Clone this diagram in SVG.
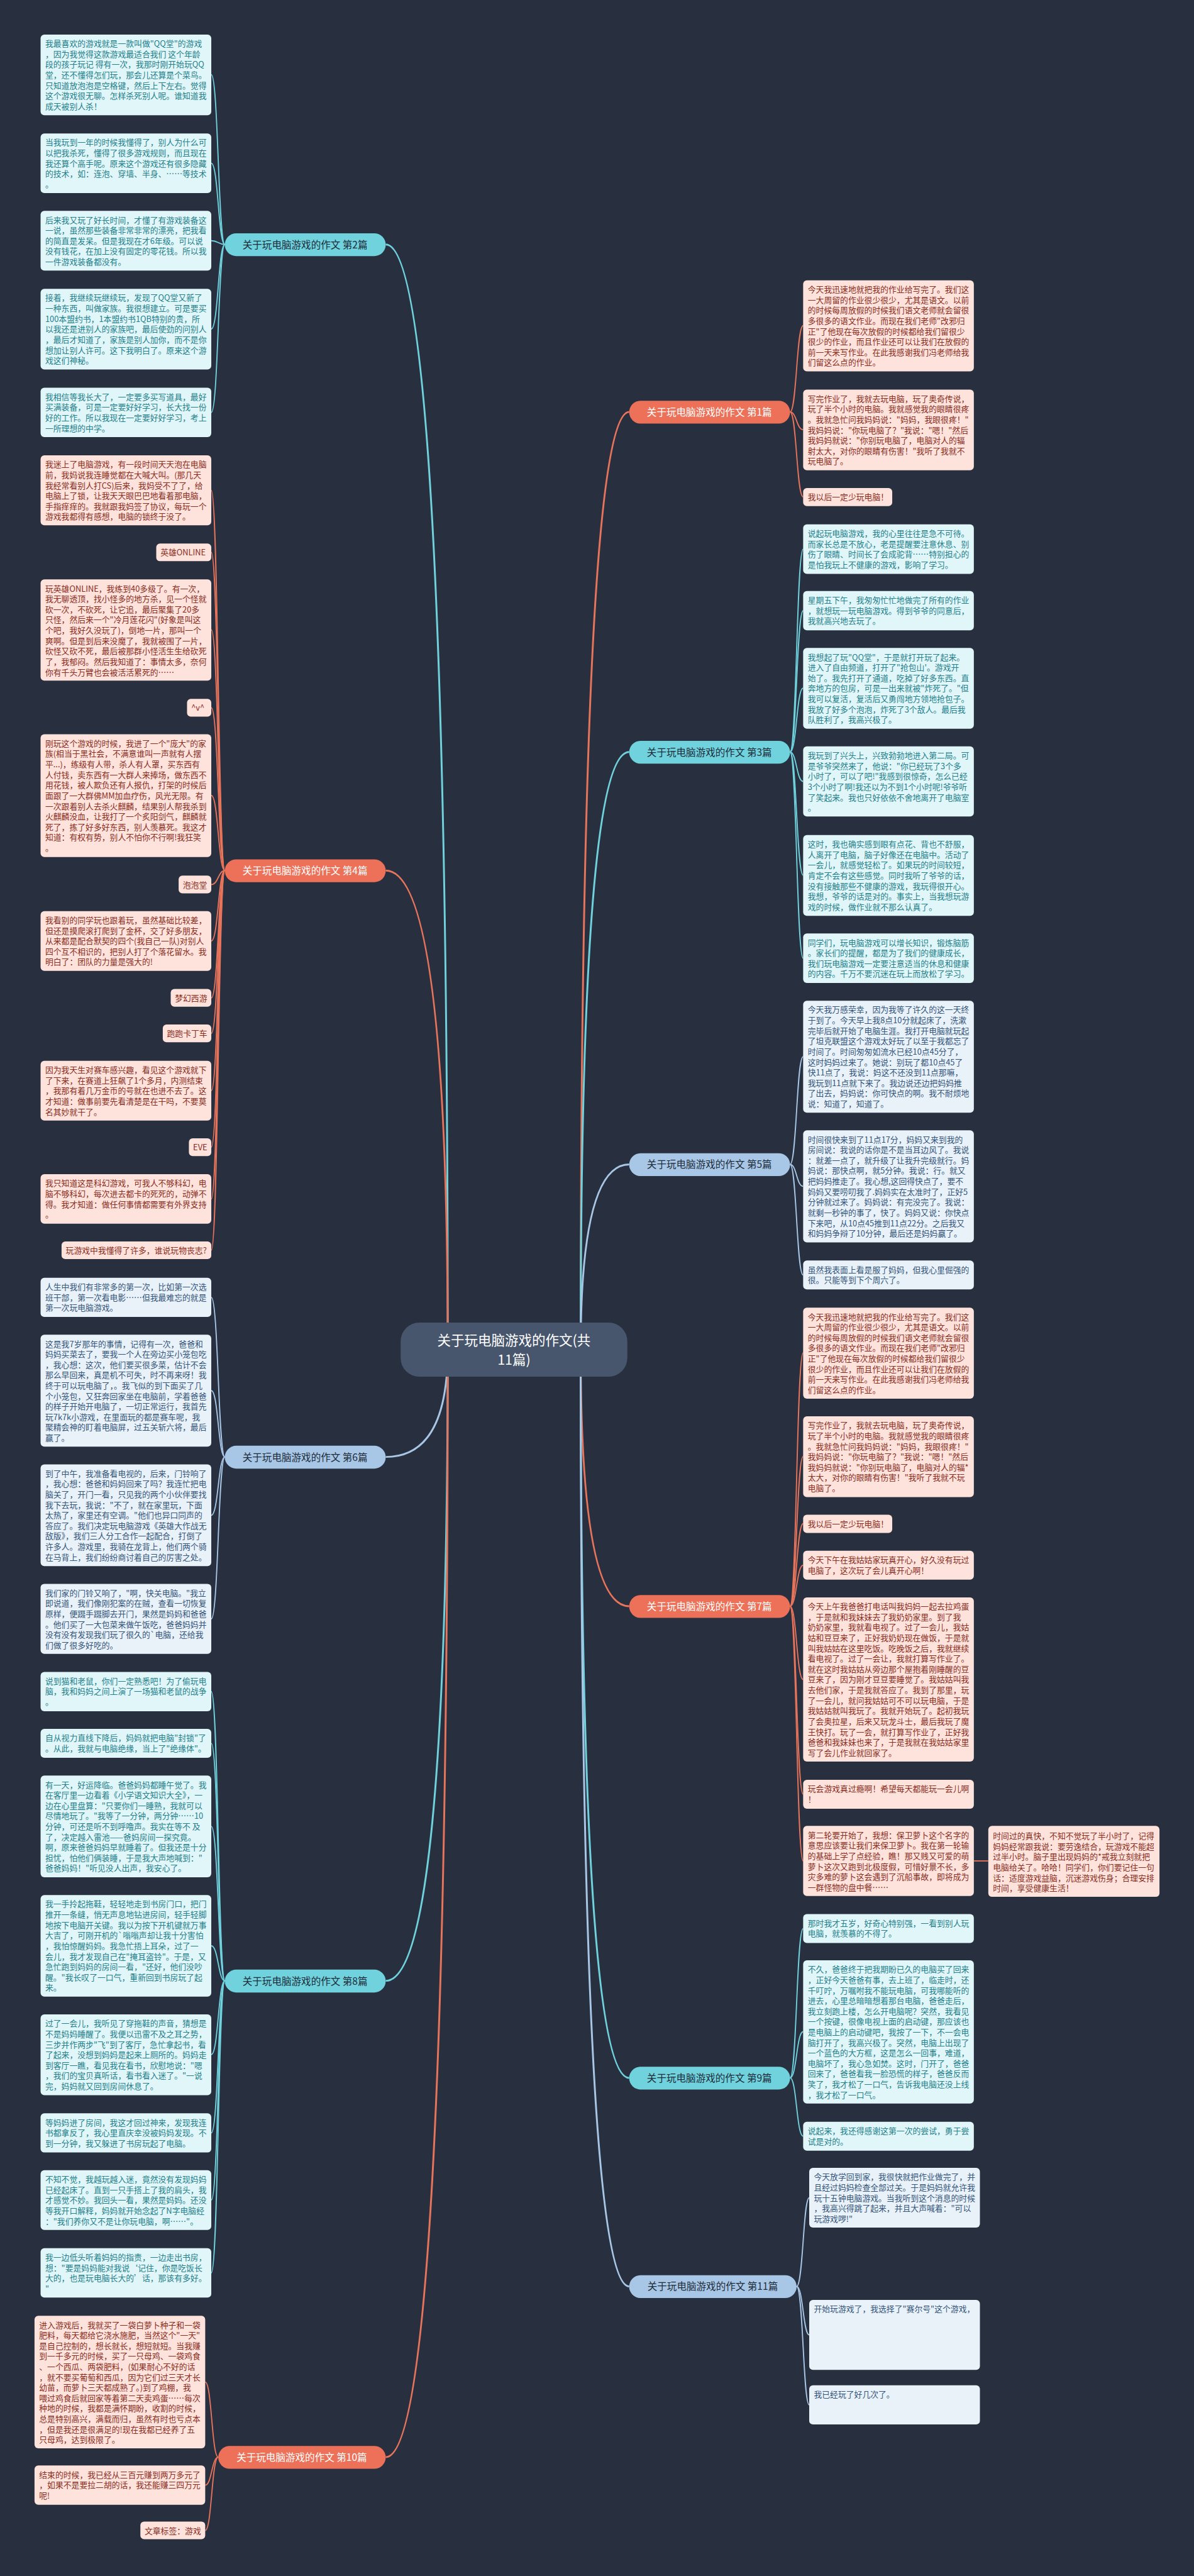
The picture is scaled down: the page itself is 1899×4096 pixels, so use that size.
<svg xmlns="http://www.w3.org/2000/svg" width="1899" height="4096" viewBox="0 0 1899 4096">
<style>
.t{font-family:"Noto Sans CJK SC","Noto Sans",sans-serif;font-size:17.3px}
.tb{fill:#e1f6f8}.tt{fill:#23808b}
.cb{fill:#fde3dc}.ct{fill:#8a2d1c}
.bb{fill:#eaf2f9}.bt{fill:#33557a}
.lt{fill:none;stroke:#6fd2dd;stroke-width:2.5}
.lc{fill:none;stroke:#e8745b;stroke-width:2.5}
.lb{fill:none;stroke:#a8c7e6;stroke-width:2.5}
.m{stroke-width:4}
.nt{font-family:"Noto Sans CJK SC","Noto Sans",sans-serif;font-size:21px;text-anchor:middle}
</style>
<rect width="1899" height="4096" fill="#283040"/>
<g transform="scale(0.74179)">
<g id="connectors">
<path class="lt m" d="M960 2893 Q960 524 827 524"/>
<path class="lc m" d="M960 2893 Q960 1866 827 1866"/>
<path class="lb m" d="M960 2893 Q960 3123 827 3123"/>
<path class="lt m" d="M960 2893 Q960 4246 827 4246"/>
<path class="lc m" d="M960 2893 Q960 5267 827 5267"/>
<path class="lc m" d="M1245 2893 Q1245 883 1349 883"/>
<path class="lt m" d="M1245 2893 Q1245 1612 1349 1612"/>
<path class="lb m" d="M1245 2893 Q1245 2496 1349 2496"/>
<path class="lc m" d="M1245 2893 Q1245 3443 1349 3443"/>
<path class="lt m" d="M1245 2893 Q1245 4454 1349 4454"/>
<path class="lb m" d="M1245 2893 Q1245 4901 1349 4901"/>
<path class="lt" d="M482 524 C468 524 468 160 453 160"/>
<path class="lt" d="M482 524 C468 524 468 350 453 350"/>
<path class="lt" d="M482 524 C468 524 468 516 453 516"/>
<path class="lt" d="M482 524 C468 524 468 705 453 705"/>
<path class="lt" d="M482 524 C468 524 468 884 453 884"/>
<path class="lc" d="M482 1866 C468 1866 468 1051 453 1051"/>
<path class="lc" d="M482 1866 C468 1866 468 1184 453 1184"/>
<path class="lc" d="M482 1866 C468 1866 468 1350 453 1350"/>
<path class="lc" d="M482 1866 C468 1866 468 1517 453 1517"/>
<path class="lc" d="M482 1866 C468 1866 468 1705 453 1705"/>
<path class="lc" d="M482 1866 C468 1866 468 1896 453 1896"/>
<path class="lc" d="M482 1866 C468 1866 468 2017 453 2017"/>
<path class="lc" d="M482 1866 C468 1866 468 2139 453 2139"/>
<path class="lc" d="M482 1866 C468 1866 468 2215 453 2215"/>
<path class="lc" d="M482 1866 C468 1866 468 2338 453 2338"/>
<path class="lc" d="M482 1866 C468 1866 468 2459 453 2459"/>
<path class="lc" d="M482 1866 C468 1866 468 2570 453 2570"/>
<path class="lc" d="M482 1866 C468 1866 468 2680 453 2680"/>
<path class="lb" d="M482 3123 C468 3123 468 2781 453 2781"/>
<path class="lb" d="M482 3123 C468 3123 468 2981 453 2981"/>
<path class="lb" d="M482 3123 C468 3123 468 3248 453 3248"/>
<path class="lb" d="M482 3123 C468 3123 468 3470 453 3470"/>
<path class="lt" d="M482 4246 C468 4246 468 3626 453 3626"/>
<path class="lt" d="M482 4246 C468 4246 468 3737 453 3737"/>
<path class="lt" d="M482 4246 C468 4246 468 3915 453 3915"/>
<path class="lt" d="M482 4246 C468 4246 468 4171 453 4171"/>
<path class="lt" d="M482 4246 C468 4246 468 4404 453 4404"/>
<path class="lt" d="M482 4246 C468 4246 468 4572 453 4572"/>
<path class="lt" d="M482 4246 C468 4246 468 4716 453 4716"/>
<path class="lt" d="M482 4246 C468 4246 468 4872 453 4872"/>
<path class="lc" d="M468 5267 C454 5267 454 5106 440 5106"/>
<path class="lc" d="M468 5267 C454 5267 454 5327 440 5327"/>
<path class="lc" d="M468 5267 C454 5267 454 5424 440 5424"/>
<path class="lc" d="M1694 883 C1708 883 1708 698 1722 698"/>
<path class="lc" d="M1694 883 C1708 883 1708 921 1722 921"/>
<path class="lc" d="M1694 883 C1708 883 1708 1065 1722 1065"/>
<path class="lt" d="M1694 1612 C1708 1612 1708 1177 1722 1177"/>
<path class="lt" d="M1694 1612 C1708 1612 1708 1309 1722 1309"/>
<path class="lt" d="M1694 1612 C1708 1612 1708 1475 1722 1475"/>
<path class="lt" d="M1694 1612 C1708 1612 1708 1675 1722 1675"/>
<path class="lt" d="M1694 1612 C1708 1612 1708 1876 1722 1876"/>
<path class="lt" d="M1694 1612 C1708 1612 1708 2054 1722 2054"/>
<path class="lb" d="M1694 2496 C1708 2496 1708 2265 1722 2265"/>
<path class="lb" d="M1694 2496 C1708 2496 1708 2543 1722 2543"/>
<path class="lb" d="M1694 2496 C1708 2496 1708 2733 1722 2733"/>
<path class="lc" d="M1694 3443 C1708 3443 1708 2900 1722 2900"/>
<path class="lc" d="M1694 3443 C1708 3443 1708 3122 1722 3122"/>
<path class="lc" d="M1694 3443 C1708 3443 1708 3266 1722 3266"/>
<path class="lc" d="M1694 3443 C1708 3443 1708 3355 1722 3355"/>
<path class="lc" d="M1694 3443 C1708 3443 1708 3600 1722 3600"/>
<path class="lc" d="M1694 3443 C1708 3443 1708 3846 1722 3846"/>
<path class="lc" d="M1694 3443 C1708 3443 1708 3989 1722 3989"/>
<path class="lc" d="M2088 3989 L2119 3989"/>
<path class="lt" d="M1694 4454 C1708 4454 1708 4134 1722 4134"/>
<path class="lt" d="M1694 4454 C1708 4454 1708 4355 1722 4355"/>
<path class="lt" d="M1694 4454 C1708 4454 1708 4579 1722 4579"/>
<path class="lb" d="M1708 4901 C1722 4901 1722 4711 1735 4711"/>
<path class="lb" d="M1708 4901 C1722 4901 1722 5005 1735 5005"/>
<path class="lb" d="M1708 4901 C1722 4901 1722 5155 1735 5155"/>
</g>

<g id="center"><rect x="859" y="2835" width="486" height="116" rx="40" fill="#47566c"/>
<text class="nt" x="1102" y="2884" fill="#ffffff" style="font-size:29px">关于玩电脑游戏的作文(共</text>
<text class="nt" x="1102" y="2926" fill="#ffffff" style="font-size:29px">11篇)</text></g>

<g id="n2"><rect x="482" y="500" width="345" height="49" rx="24.5" fill="#6fd2dd"/><text class="nt" x="654" y="532" fill="#1e2c3a">关于玩电脑游戏的作文 第2篇</text></g>
<g id="n4"><rect x="482" y="1842" width="345" height="49" rx="24.5" fill="#ec7158"/><text class="nt" x="654" y="1874" fill="#ffffff">关于玩电脑游戏的作文 第4篇</text></g>
<g id="n6"><rect x="482" y="3099" width="345" height="49" rx="24.5" fill="#a8c7e6"/><text class="nt" x="654" y="3131" fill="#1e2c3a">关于玩电脑游戏的作文 第6篇</text></g>
<g id="n8"><rect x="482" y="4222" width="345" height="49" rx="24.5" fill="#6fd2dd"/><text class="nt" x="654" y="4254" fill="#1e2c3a">关于玩电脑游戏的作文 第8篇</text></g>
<g id="n10"><rect x="468" y="5243" width="359" height="49" rx="24.5" fill="#ec7158"/><text class="nt" x="647" y="5275" fill="#ffffff">关于玩电脑游戏的作文 第10篇</text></g>
<g id="n1"><rect x="1349" y="859" width="345" height="49" rx="24.5" fill="#ec7158"/><text class="nt" x="1521" y="891" fill="#ffffff">关于玩电脑游戏的作文 第1篇</text></g>
<g id="n3"><rect x="1349" y="1588" width="345" height="49" rx="24.5" fill="#6fd2dd"/><text class="nt" x="1521" y="1620" fill="#1e2c3a">关于玩电脑游戏的作文 第3篇</text></g>
<g id="n5"><rect x="1349" y="2472" width="345" height="49" rx="24.5" fill="#a8c7e6"/><text class="nt" x="1521" y="2504" fill="#1e2c3a">关于玩电脑游戏的作文 第5篇</text></g>
<g id="n7"><rect x="1349" y="3419" width="345" height="49" rx="24.5" fill="#ec7158"/><text class="nt" x="1521" y="3451" fill="#ffffff">关于玩电脑游戏的作文 第7篇</text></g>
<g id="n9"><rect x="1349" y="4430" width="345" height="49" rx="24.5" fill="#6fd2dd"/><text class="nt" x="1521" y="4462" fill="#1e2c3a">关于玩电脑游戏的作文 第9篇</text></g>
<g id="n11"><rect x="1349" y="4877" width="359" height="49" rx="24.5" fill="#a8c7e6"/><text class="nt" x="1528" y="4909" fill="#1e2c3a">关于玩电脑游戏的作文 第11篇</text></g>

<g id="A1"><rect class="tb" x="87" y="74" width="366" height="173" rx="8"/><text class="t tt" y="100"><tspan x="97">我最喜欢的游戏就是一款叫做"QQ堂"的游戏</tspan><tspan x="97" dy="22.4">，因为我觉得这款游戏最适合我们 这个年龄</tspan><tspan x="97" dy="22.4">段的孩子玩记 得有一次，我那时刚开始玩QQ</tspan><tspan x="97" dy="22.4">堂，还不懂得怎们玩，那会儿还算是个菜鸟。</tspan><tspan x="97" dy="22.4">只知道放泡泡是空格键，然后上下左右。觉得</tspan><tspan x="97" dy="22.4">这个游戏很无聊。怎样杀死别人呢。谁知道我</tspan><tspan x="97" dy="22.4">成天被别人杀！</tspan></text></g>
<g id="A2"><rect class="tb" x="87" y="286" width="366" height="128" rx="8"/><text class="t tt" y="312"><tspan x="97">当我玩到一年的时候我懂得了，别人为什么可</tspan><tspan x="97" dy="22.4">以把我杀死，懂得了很多游戏规则，而且现在</tspan><tspan x="97" dy="22.4">我还算个高手呢。原来这个游戏还有很多隐藏</tspan><tspan x="97" dy="22.4">的技术，如：连泡、穿墙、半身、……等技术</tspan><tspan x="97" dy="22.4">。</tspan></text></g>
<g id="A3"><rect class="tb" x="87" y="452" width="366" height="128" rx="8"/><text class="t tt" y="478"><tspan x="97">后来我又玩了好长时间，才懂了有游戏装备这</tspan><tspan x="97" dy="22.4">一说，虽然那些装备非常非常的漂亮，把我看</tspan><tspan x="97" dy="22.4">的简直是发呆。但是我现在才6年级。可以说</tspan><tspan x="97" dy="22.4">没有钱花，在加上没有固定的零花钱。所以我</tspan><tspan x="97" dy="22.4">一件游戏装备都没有。</tspan></text></g>
<g id="A4"><rect class="tb" x="87" y="619" width="366" height="173" rx="8"/><text class="t tt" y="645"><tspan x="97">接着，我继续玩继续玩，发现了QQ堂又新了</tspan><tspan x="97" dy="22.4">一种东西，叫做家族。我很想建立。可是要买</tspan><tspan x="97" dy="22.4">100本盟约书，1本盟约书1QB特别的贵，所</tspan><tspan x="97" dy="22.4">以我还是进别人的家族吧，最后使劲的问别人</tspan><tspan x="97" dy="22.4">，最后才知道了，家族是别人加你，而不是你</tspan><tspan x="97" dy="22.4">想加让别人许可。这下我明白了。原来这个游</tspan><tspan x="97" dy="22.4">戏这们神秘。</tspan></text></g>
<g id="A5"><rect class="tb" x="87" y="831" width="366" height="106" rx="8"/><text class="t tt" y="857"><tspan x="97">我相信等我长大了，一定要多买写道具，最好</tspan><tspan x="97" dy="22.4">买满装备，可是一定要好好学习，长大找一份</tspan><tspan x="97" dy="22.4">好的工作。所以我现在一定要好好学习，考上</tspan><tspan x="97" dy="22.4">一所理想的中学。</tspan></text></g>

<g id="B1"><rect class="cb" x="87" y="976" width="366" height="150" rx="8"/><text class="t ct" y="1002"><tspan x="97">我迷上了电脑游戏，有一段时间天天泡在电脑</tspan><tspan x="97" dy="22.4">前，我妈说我连睡觉都在大喊大叫。(那几天</tspan><tspan x="97" dy="22.4">我经常看别人打CS)后来，我妈受不了了，给</tspan><tspan x="97" dy="22.4">电脑上了锁，让我天天眼巴巴地看着那电脑，</tspan><tspan x="97" dy="22.4">手指痒痒的。我就跟我妈签了协议，每玩一个</tspan><tspan x="97" dy="22.4">游戏我都得有感想，电脑的锁终于没了。</tspan></text></g>
<g id="B2"><rect class="cb" x="335" y="1165" width="118" height="38" rx="8"/><text class="t ct" x="344" y="1191">英雄ONLINE</text></g>
<g id="B3"><rect class="cb" x="87" y="1242" width="366" height="217" rx="8"/><text class="t ct" y="1268"><tspan x="97">玩英雄ONLINE，我练到40多级了。有一次，</tspan><tspan x="97" dy="22.4">我无聊透顶，找小怪多的地方杀，见一个怪就</tspan><tspan x="97" dy="22.4">砍一次，不砍死，让它追，最后聚集了20多</tspan><tspan x="97" dy="22.4">只怪，然后来一个"冷月莲花闪"(好象是叫这</tspan><tspan x="97" dy="22.4">个吧，我好久没玩了)，倒地一片，那叫一个</tspan><tspan x="97" dy="22.4">爽啊。但是到后来没魔了，我就被围了一片，</tspan><tspan x="97" dy="22.4">砍怪又砍不死，最后被那群小怪活生生给砍死</tspan><tspan x="97" dy="22.4">了，我郁闷。然后我知道了：事情太多，奈何</tspan><tspan x="97" dy="22.4">你有千头万臂也会被活活累死的……</tspan></text></g>
<g id="B4"><rect class="cb" x="401" y="1498" width="52" height="38" rx="8"/><text class="t ct" x="410" y="1524">^v^</text></g>
<g id="B5"><rect class="cb" x="87" y="1574" width="366" height="263" rx="8"/><text class="t ct" y="1600"><tspan x="97">刚玩这个游戏的时候，我进了一个"庞大"的家</tspan><tspan x="97" dy="22.4">族(相当于黑社会，不满意谁叫一声就有人摆</tspan><tspan x="97" dy="22.4">平...)，练级有人带，杀人有人罩，买东西有</tspan><tspan x="97" dy="22.4">人付钱，卖东西有一大群人来捧场，做东西不</tspan><tspan x="97" dy="22.4">用花钱，被人欺负还有人报仇，打架的时候后</tspan><tspan x="97" dy="22.4">面跟了一大群佛MM加血疗伤，风光无限。有</tspan><tspan x="97" dy="22.4">一次跟着别人去杀火麒麟，结果别人帮我杀到</tspan><tspan x="97" dy="22.4">火麒麟没血，让我打了一个炙阳剑气，麒麟就</tspan><tspan x="97" dy="22.4">死了，拣了好多好东西，别人羡慕死。我这才</tspan><tspan x="97" dy="22.4">知道：有权有势，别人不怕你不行啊!我狂笑</tspan><tspan x="97" dy="22.4">。</tspan></text></g>
<g id="B6"><rect class="cb" x="383" y="1877" width="70" height="38" rx="8"/><text class="t ct" x="392" y="1903">泡泡堂</text></g>
<g id="B7"><rect class="cb" x="87" y="1953" width="366" height="128" rx="8"/><text class="t ct" y="1979"><tspan x="97">我看别的同学玩也跟着玩，虽然基础比较差，</tspan><tspan x="97" dy="22.4">但还是摸爬滚打爬到了金杯，交了好多朋友，</tspan><tspan x="97" dy="22.4">从来都是配合默契的四个(我自己一队)对别人</tspan><tspan x="97" dy="22.4">四个互不相识的，把别人打了个落花留水。我</tspan><tspan x="97" dy="22.4">明白了：团队的力量是强大的!</tspan></text></g>
<g id="B8"><rect class="cb" x="366" y="2120" width="87" height="38" rx="8"/><text class="t ct" x="375" y="2146">梦幻西游</text></g>
<g id="B9"><rect class="cb" x="349" y="2196" width="104" height="38" rx="8"/><text class="t ct" x="358" y="2222">跑跑卡丁车</text></g>
<g id="B10"><rect class="cb" x="87" y="2274" width="366" height="128" rx="8"/><text class="t ct" y="2300"><tspan x="97">因为我天生对赛车感兴趣，看见这个游戏就下</tspan><tspan x="97" dy="22.4">了下来，在赛道上狂飙了1个多月，内测结束</tspan><tspan x="97" dy="22.4">，我那有着几万金币的号就在也进不去了。这</tspan><tspan x="97" dy="22.4">才知道：做事前要先看清楚是在干吗，不要莫</tspan><tspan x="97" dy="22.4">名其妙就干了。</tspan></text></g>
<g id="B11"><rect class="cb" x="405" y="2440" width="48" height="38" rx="8"/><text class="t ct" x="414" y="2466">EVE</text></g>
<g id="B12"><rect class="cb" x="87" y="2517" width="366" height="106" rx="8"/><text class="t ct" y="2543"><tspan x="97">我只知道这是科幻游戏，可我人不够科幻，电</tspan><tspan x="97" dy="22.4">脑不够科幻，每次进去都卡的死死的，动弹不</tspan><tspan x="97" dy="22.4">得。我才知道：做任何事情都需要有外界支持</tspan><tspan x="97" dy="22.4">。</tspan></text></g>
<g id="B13"><rect class="cb" x="132" y="2661" width="321" height="38" rx="8"/><text class="t ct" x="141" y="2687">玩游戏中我懂得了许多，谁说玩物丧志?</text></g>

<g id="C1"><rect class="bb" x="87" y="2739" width="366" height="84" rx="8"/><text class="t bt" y="2765"><tspan x="97">人生中我们有非常多的第一次，比如第一次选</tspan><tspan x="97" dy="22.4">班干部，第一次看电影……但我最难忘的就是</tspan><tspan x="97" dy="22.4">第一次玩电脑游戏。</tspan></text></g>
<g id="C2"><rect class="bb" x="87" y="2861" width="366" height="240" rx="8"/><text class="t bt" y="2887"><tspan x="97">这是我7岁那年的事情，记得有一次，爸爸和</tspan><tspan x="97" dy="22.4">妈妈买菜去了，要我一个人在旁边买小笼包吃</tspan><tspan x="97" dy="22.4">，我心想：这次，他们要买很多菜，估计不会</tspan><tspan x="97" dy="22.4">那么早回来，真是机不可失，时不再来呀！我</tspan><tspan x="97" dy="22.4">终于可以玩电脑了，。我飞似的到下面买了几</tspan><tspan x="97" dy="22.4">个小笼包，又狂奔回家坐在电脑前，学着爸爸</tspan><tspan x="97" dy="22.4">的样子开始开电脑了，一切正常运行，我首先</tspan><tspan x="97" dy="22.4">玩7k7k小游戏，在里面玩的都是赛车呢，我</tspan><tspan x="97" dy="22.4">聚精会神的盯着电脑屏，过五关斩六将，最后</tspan><tspan x="97" dy="22.4">赢了。</tspan></text></g>
<g id="C3"><rect class="bb" x="87" y="3139" width="366" height="218" rx="8"/><text class="t bt" y="3165"><tspan x="97">到了中午，我准备看电视的，后来，门铃响了</tspan><tspan x="97" dy="22.4">，我心想：爸爸和妈妈回来了吗？我连忙把电</tspan><tspan x="97" dy="22.4">脑关了，开门一看，只见我的两个小伙伴要找</tspan><tspan x="97" dy="22.4">我下去玩，我说："不了，就在家里玩，下面</tspan><tspan x="97" dy="22.4">太热了，家里还有空调。"他们也异口同声的</tspan><tspan x="97" dy="22.4">答应了。我们决定玩电脑游戏《英雄大作战无</tspan><tspan x="97" dy="22.4">敌版》，我们三人分工合作一起配合，打倒了</tspan><tspan x="97" dy="22.4">许多人。游戏里，我骑在龙背上，他们两个骑</tspan><tspan x="97" dy="22.4">在马背上，我们纷纷商讨着自己的厉害之处。</tspan></text></g>
<g id="C4"><rect class="bb" x="87" y="3395" width="366" height="150" rx="8"/><text class="t bt" y="3421"><tspan x="97">我们家的门铃又响了，"啊，快关电脑。"我立</tspan><tspan x="97" dy="22.4">即说道，我们像刚犯案的在贼，查看一切恢复</tspan><tspan x="97" dy="22.4">原样，便蹑手蹑脚去开门，果然是妈妈和爸爸</tspan><tspan x="97" dy="22.4">。他们买了一大包菜来做午饭吃，爸爸妈妈并</tspan><tspan x="97" dy="22.4">没有没有发现我们玩了很久的`电脑，还给我</tspan><tspan x="97" dy="22.4">们做了很多好吃的。</tspan></text></g>

<g id="C5"><rect class="tb" x="87" y="3584" width="366" height="84" rx="8"/><text class="t tt" y="3610"><tspan x="97">说到猫和老鼠，你们一定熟悉吧！为了偷玩电</tspan><tspan x="97" dy="22.4">脑，我和妈妈之间上演了一场猫和老鼠的战争</tspan><tspan x="97" dy="22.4">。</tspan></text></g>
<g id="C6"><rect class="tb" x="87" y="3706" width="366" height="62" rx="8"/><text class="t tt" y="3732"><tspan x="97">自从视力直线下降后，妈妈就把电脑"封锁"了</tspan><tspan x="97" dy="22.4">。从此，我就与电脑绝缘，当上了"绝缘体"。</tspan></text></g>
<g id="C7"><rect class="tb" x="87" y="3806" width="366" height="218" rx="8"/><text class="t tt" y="3832"><tspan x="97">有一天，好运降临。爸爸妈妈都睡午觉了。我</tspan><tspan x="97" dy="22.4">在客厅里一边看着《小学语文知识大全》，一</tspan><tspan x="97" dy="22.4">边在心里盘算："只要你们一睡熟，我就可以</tspan><tspan x="97" dy="22.4">尽情地玩了。"我等了一分钟，两分钟……10</tspan><tspan x="97" dy="22.4">分钟，可还是听不到呼噜声。我实在等不 及</tspan><tspan x="97" dy="22.4">了，决定越入雷池——爸妈房间一探究竟。</tspan><tspan x="97" dy="22.4">啊，原来爸爸妈妈早就睡着了。但我还是十分</tspan><tspan x="97" dy="22.4">担忧，怕他们俩装睡，于是我大声地喊到："</tspan><tspan x="97" dy="22.4">爸爸妈妈！"听见没人出声，我安心了。</tspan></text></g>
<g id="C8"><rect class="tb" x="87" y="4062" width="366" height="218" rx="8"/><text class="t tt" y="4088"><tspan x="97">我一手拎起拖鞋，轻轻地走到书房门口，把门</tspan><tspan x="97" dy="22.4">推开一条缝，悄无声息地钻进房间，轻手轻脚</tspan><tspan x="97" dy="22.4">地按下电脑开关键。我以为按下开机键就万事</tspan><tspan x="97" dy="22.4">大吉了，可刚开机的`嗡嗡声却让我十分害怕</tspan><tspan x="97" dy="22.4">，我怕惊醒妈妈。我急忙捂上耳朵，过了一</tspan><tspan x="97" dy="22.4">会儿，我才发现自己在"掩耳盗铃"。于是，又</tspan><tspan x="97" dy="22.4">急忙跑到妈妈的房间一看，"还好，他们没吵</tspan><tspan x="97" dy="22.4">醒。"我长叹了一口气，重新回到书房玩了起</tspan><tspan x="97" dy="22.4">来。</tspan></text></g>
<g id="C9"><rect class="tb" x="87" y="4318" width="366" height="173" rx="8"/><text class="t tt" y="4344"><tspan x="97">过了一会儿，我听见了穿拖鞋的声音，猜想是</tspan><tspan x="97" dy="22.4">不是妈妈睡醒了。我便以迅雷不及之耳之势，</tspan><tspan x="97" dy="22.4">三步并作两步"飞"到了客厅，急忙拿起书，看</tspan><tspan x="97" dy="22.4">了起来，没想到妈妈是起来上厕所的。妈妈走</tspan><tspan x="97" dy="22.4">到客厅一瞧，看见我在看书，欣慰地说："嗯</tspan><tspan x="97" dy="22.4">，我们的宝贝真听话，看书看入迷了。"一说</tspan><tspan x="97" dy="22.4">完，妈妈就又回到房间休息了。</tspan></text></g>
<g id="C10"><rect class="tb" x="87" y="4530" width="366" height="84" rx="8"/><text class="t tt" y="4556"><tspan x="97">等妈妈进了房间，我这才回过神来，发现我连</tspan><tspan x="97" dy="22.4">书都拿反了，我心里直庆幸没被妈妈发现。不</tspan><tspan x="97" dy="22.4">到一分钟，我又躲进了书房玩起了电脑。</tspan></text></g>
<g id="C11"><rect class="tb" x="87" y="4652" width="366" height="128" rx="8"/><text class="t tt" y="4678"><tspan x="97">不知不觉，我越玩越入迷，竟然没有发现妈妈</tspan><tspan x="97" dy="22.4">已经起床了。直到一只手搭上了我的肩头，我</tspan><tspan x="97" dy="22.4">才感觉不妙。我回头一看，果然是妈妈。还没</tspan><tspan x="97" dy="22.4">等我开口解释，妈妈就开始念起了N字电脑经</tspan><tspan x="97" dy="22.4">："我们养你又不是让你玩电脑，啊……"。</tspan></text></g>
<g id="C12"><rect class="tb" x="87" y="4819" width="366" height="106" rx="8"/><text class="t tt" y="4845"><tspan x="97">我一边低头听着妈妈的指责，一边走出书房，</tspan><tspan x="97" dy="22.4">想："要是妈妈能对我说‘记住，你是吃饭长</tspan><tspan x="97" dy="22.4">大的，也是玩电脑长大的’话，那该有多好。</tspan><tspan x="97" dy="22.4">"</tspan></text></g>

<g id="D1"><rect class="cb" x="74" y="4964" width="366" height="284" rx="8"/><text class="t ct" y="4990"><tspan x="84">进入游戏后，我就买了一袋白萝卜种子和一袋</tspan><tspan x="84" dy="22.4">肥料，每天都给它浇水施肥，当然这个"一天"</tspan><tspan x="84" dy="22.4">是自己控制的，想长就长，想短就短。当我赚</tspan><tspan x="84" dy="22.4">到一千多元的时候，买了一只母鸡、一袋鸡食</tspan><tspan x="84" dy="22.4">、一个西瓜、两袋肥料，(如果耐心不好的话</tspan><tspan x="84" dy="22.4">，就不要买葡萄和西瓜，因为它们过三天才长</tspan><tspan x="84" dy="22.4">幼苗，而萝卜三天都成熟了。)到了鸡棚，我</tspan><tspan x="84" dy="22.4">喂过鸡食后就回家等着第二天卖鸡蛋……每次</tspan><tspan x="84" dy="22.4">种地的时候，我都是满怀期盼，收割的时候，</tspan><tspan x="84" dy="22.4">总是特别高兴，满载而归，虽然有时也亏点本</tspan><tspan x="84" dy="22.4">，但是我还是很满足的!现在我都已经养了五</tspan><tspan x="84" dy="22.4">只母鸡，达到极限了。</tspan></text></g>
<g id="D2"><rect class="cb" x="74" y="5285" width="366" height="84" rx="8"/><text class="t ct" y="5311"><tspan x="84">结束的时候，我已经从三百元赚到两万多元了</tspan><tspan x="84" dy="22.4">，如果不是要拉二胡的话，我还能赚三四万元</tspan><tspan x="84" dy="22.4">呢!</tspan></text></g>
<g id="D3"><rect class="cb" x="301" y="5405" width="139" height="38" rx="8"/><text class="t ct" x="310" y="5431">文章标签：游戏</text></g>

<g id="E1"><rect class="cb" x="1722" y="601" width="366" height="195" rx="8"/><text class="t ct" y="627"><tspan x="1732">今天我迅速地就把我的作业给写完了。我们这</tspan><tspan x="1732" dy="22.4">一大周留的作业很少很少，尤其是语文。以前</tspan><tspan x="1732" dy="22.4">的时候每周放假的时候我们语文老师就会留很</tspan><tspan x="1732" dy="22.4">多很多的语文作业。而现在我们老师"改邪归</tspan><tspan x="1732" dy="22.4">正"了他现在每次放假的时候都给我们留很少</tspan><tspan x="1732" dy="22.4">很少的作业，而且作业还可以让我们在放假的</tspan><tspan x="1732" dy="22.4">前一天来写作业。在此我感谢我们冯老师给我</tspan><tspan x="1732" dy="22.4">们留这么点的作业。</tspan></text></g>
<g id="E2"><rect class="cb" x="1722" y="835" width="366" height="173" rx="8"/><text class="t ct" y="861"><tspan x="1732">写完作业了，我就去玩电脑，玩了奥奇传说，</tspan><tspan x="1732" dy="22.4">玩了半个小时的电脑。我就感觉我的眼睛很疼</tspan><tspan x="1732" dy="22.4">。我就急忙问我妈妈说："妈妈，我眼很疼！"</tspan><tspan x="1732" dy="22.4">我妈妈说："你玩电脑了？"我说："嗯！"然后</tspan><tspan x="1732" dy="22.4">我妈妈就说："你别玩电脑了，电脑对人的辐</tspan><tspan x="1732" dy="22.4">射太大，对你的眼睛有伤害！"我听了我就不</tspan><tspan x="1732" dy="22.4">玩电脑了。</tspan></text></g>
<g id="E3"><rect class="cb" x="1722" y="1046" width="191" height="39" rx="8"/><text class="t ct" x="1732" y="1072">我以后一定少玩电脑！</text></g>

<g id="F1"><rect class="tb" x="1722" y="1124" width="366" height="106" rx="8"/><text class="t tt" y="1150"><tspan x="1732">说起玩电脑游戏，我的心里往往是急不可待。</tspan><tspan x="1732" dy="22.4">而家长总是不放心，老是提醒要注意休息、别</tspan><tspan x="1732" dy="22.4">伤了眼睛、时间长了会成驼背……特别担心的</tspan><tspan x="1732" dy="22.4">是怕我玩上不健康的游戏，影响了学习。</tspan></text></g>
<g id="F2"><rect class="tb" x="1722" y="1267" width="366" height="84" rx="8"/><text class="t tt" y="1293"><tspan x="1732">星期五下午，我匆匆忙忙地做完了所有的作业</tspan><tspan x="1732" dy="22.4">，就想玩一玩电脑游戏。得到爷爷的同意后，</tspan><tspan x="1732" dy="22.4">我就高兴地去玩了。</tspan></text></g>
<g id="F3"><rect class="tb" x="1722" y="1389" width="366" height="173" rx="8"/><text class="t tt" y="1415"><tspan x="1732">我想起了玩"QQ堂"，于是就打开玩了起来。</tspan><tspan x="1732" dy="22.4">进入了自由频道，打开了"抢包山'。游戏开</tspan><tspan x="1732" dy="22.4">始了。我先打开了通道，吃掉了好多东西。直</tspan><tspan x="1732" dy="22.4">奔地方的包房，可是一出来就被"炸死了。"但</tspan><tspan x="1732" dy="22.4">我可以复活，复活后又勇闯地方领地抢包子。</tspan><tspan x="1732" dy="22.4">我放了好多个泡泡，炸死了3个敌人。最后我</tspan><tspan x="1732" dy="22.4">队胜利了，我高兴极了。</tspan></text></g>
<g id="F4"><rect class="tb" x="1722" y="1600" width="366" height="150" rx="8"/><text class="t tt" y="1626"><tspan x="1732">我玩到了兴头上，兴致勃勃地进入第二局。可</tspan><tspan x="1732" dy="22.4">是爷爷突然来了，他说："你已经玩了3个多</tspan><tspan x="1732" dy="22.4">小时了，可以了吧!"我感到很惊奇，怎么已经</tspan><tspan x="1732" dy="22.4">3个小时了啊!我还以为不到1个小时呢!爷爷听</tspan><tspan x="1732" dy="22.4">了笑起来。我也只好依依不舍地离开了电脑室</tspan><tspan x="1732" dy="22.4">。</tspan></text></g>
<g id="F5"><rect class="tb" x="1722" y="1790" width="366" height="173" rx="8"/><text class="t tt" y="1816"><tspan x="1732">这时，我也确实感到眼有点花、背也不舒服，</tspan><tspan x="1732" dy="22.4">人离开了电脑，脑子好像还在电脑中。活动了</tspan><tspan x="1732" dy="22.4">一会儿，就感觉轻松了。如果玩的时间较短，</tspan><tspan x="1732" dy="22.4">肯定不会有这些感觉。同时我听了爷爷的话，</tspan><tspan x="1732" dy="22.4">没有接触那些不健康的游戏，我玩得很开心。</tspan><tspan x="1732" dy="22.4">我想，爷爷的话是对的。事实上，当我想玩游</tspan><tspan x="1732" dy="22.4">戏的时候，做作业就不那么认真了。</tspan></text></g>
<g id="F6"><rect class="tb" x="1722" y="2001" width="366" height="106" rx="8"/><text class="t tt" y="2027"><tspan x="1732">同学们，玩电脑游戏可以增长知识，锻炼脑筋</tspan><tspan x="1732" dy="22.4">。家长们的提醒，都是为了我们的健康成长，</tspan><tspan x="1732" dy="22.4">我们玩电脑游戏一定要注意适当的休息和健康</tspan><tspan x="1732" dy="22.4">的内容。千万不要沉迷在玩上而放松了学习。</tspan></text></g>

<g id="G1"><rect class="bb" x="1722" y="2145" width="366" height="240" rx="8"/><text class="t bt" y="2171"><tspan x="1732">今天我万感荣幸，因为我等了许久的这一天终</tspan><tspan x="1732" dy="22.4">于到了。今天早上我8点10分就起床了，洗漱</tspan><tspan x="1732" dy="22.4">完毕后就开始了电脑生涯。我打开电脑就玩起</tspan><tspan x="1732" dy="22.4">了坦克联盟这个游戏太好玩了以至于我都忘了</tspan><tspan x="1732" dy="22.4">时间了。时间匆匆如流水已经10点45分了，</tspan><tspan x="1732" dy="22.4">这时妈妈过来了。她说：别玩了都10点45了</tspan><tspan x="1732" dy="22.4">快11点了，我说：妈这不还没到11点那嘛，</tspan><tspan x="1732" dy="22.4">我玩到11点就下来了。我边说还边把妈妈推</tspan><tspan x="1732" dy="22.4">了出去，妈妈说：你可快点的啊。我不耐烦地</tspan><tspan x="1732" dy="22.4">说：知道了，知道了。</tspan></text></g>
<g id="G2"><rect class="bb" x="1722" y="2423" width="366" height="240" rx="8"/><text class="t bt" y="2449"><tspan x="1732">时间很快来到了11点17分，妈妈又来到我的</tspan><tspan x="1732" dy="22.4">房间说：我说的话你是不是当耳边风了。我说</tspan><tspan x="1732" dy="22.4">：就差一点了，就升级了让我升完级就行。妈</tspan><tspan x="1732" dy="22.4">妈说：那快点啊，就5分钟。我说：行。就又</tspan><tspan x="1732" dy="22.4">把妈妈推走了。我心想,这回得快点了，要不</tspan><tspan x="1732" dy="22.4">妈妈又要唠叨我了.妈妈实在太准时了，正好5</tspan><tspan x="1732" dy="22.4">分钟就过来了。妈妈说：有完没完了。我说：</tspan><tspan x="1732" dy="22.4">就剩一秒钟的事了，快了。妈妈又说：你快点</tspan><tspan x="1732" dy="22.4">下来吧，从10点45推到11点22分。之后我又</tspan><tspan x="1732" dy="22.4">和妈妈争辩了10分钟，最后还是妈妈赢了。</tspan></text></g>
<g id="G3"><rect class="bb" x="1722" y="2702" width="366" height="62" rx="8"/><text class="t bt" y="2728"><tspan x="1732">虽然我表面上看是服了妈妈，但我心里倔强的</tspan><tspan x="1732" dy="22.4">很。只能等到下个周六了。</tspan></text></g>

<g id="H1"><rect class="cb" x="1722" y="2803" width="366" height="195" rx="8"/><text class="t ct" y="2829"><tspan x="1732">今天我迅速地就把我的作业给写完了。我们这</tspan><tspan x="1732" dy="22.4">一大周留的作业很少很少，尤其是语文。以前</tspan><tspan x="1732" dy="22.4">的时候每周放假的时候我们语文老师就会留很</tspan><tspan x="1732" dy="22.4">多很多的语文作业。而现在我们老师"改邪归</tspan><tspan x="1732" dy="22.4">正"了他现在每次放假的时候都给我们留很少</tspan><tspan x="1732" dy="22.4">很少的作业，而且作业还可以让我们在放假的</tspan><tspan x="1732" dy="22.4">前一天来写作业。在此我感谢我们冯老师给我</tspan><tspan x="1732" dy="22.4">们留这么点的作业。</tspan></text></g>
<g id="H2"><rect class="cb" x="1722" y="3036" width="366" height="173" rx="8"/><text class="t ct" y="3062"><tspan x="1732">写完作业了，我就去玩电脑，玩了奥奇传说，</tspan><tspan x="1732" dy="22.4">玩了半个小时的电脑。我就感觉我的眼睛很疼</tspan><tspan x="1732" dy="22.4">。我就急忙问我妈妈说："妈妈，我眼很疼！"</tspan><tspan x="1732" dy="22.4">我妈妈说："你玩电脑了？"我说："嗯！"然后</tspan><tspan x="1732" dy="22.4">我妈妈就说："你别玩电脑了，电脑对人的辐*</tspan><tspan x="1732" dy="22.4">太大，对你的眼睛有伤害！"我听了我就不玩</tspan><tspan x="1732" dy="22.4">电脑了。</tspan></text></g>
<g id="H3"><rect class="cb" x="1722" y="3247" width="191" height="39" rx="8"/><text class="t ct" x="1732" y="3273">我以后一定少玩电脑！</text></g>
<g id="H4"><rect class="cb" x="1722" y="3324" width="366" height="62" rx="8"/><text class="t ct" y="3350"><tspan x="1732">今天下午在我姑姑家玩真开心，好久没有玩过</tspan><tspan x="1732" dy="22.4">电脑了，这次玩了会儿真开心啊！</tspan></text></g>
<g id="H5"><rect class="cb" x="1722" y="3424" width="366" height="352" rx="8"/><text class="t ct" y="3450"><tspan x="1732">今天上午我爸爸打电话叫我妈妈一起去拉鸡蛋</tspan><tspan x="1732" dy="22.4">，于是就和我妹妹去了我奶奶家里。到了我</tspan><tspan x="1732" dy="22.4">奶奶家里，我就看电视了。过了一会儿，我姑</tspan><tspan x="1732" dy="22.4">姑和豆豆来了，正好我奶奶现在做饭，于是就</tspan><tspan x="1732" dy="22.4">叫我姑姑在这里吃饭。吃晚饭之后，我就继续</tspan><tspan x="1732" dy="22.4">看电视了。过了一会让，我就打算写作业了。</tspan><tspan x="1732" dy="22.4">就在这时我姑姑从旁边那个屋抱着刚睡醒的豆</tspan><tspan x="1732" dy="22.4">豆来了，因为刚才豆豆要睡觉了。我姑姑叫我</tspan><tspan x="1732" dy="22.4">去他们家，于是我就答应了。我到了那里，玩</tspan><tspan x="1732" dy="22.4">了一会儿，就问我姑姑可不可以玩电脑，于是</tspan><tspan x="1732" dy="22.4">我姑姑就叫我玩了。我就开始玩了。起初我玩</tspan><tspan x="1732" dy="22.4">了会奥拉星，后来又玩龙斗士，最后我玩了魔</tspan><tspan x="1732" dy="22.4">王快打。玩了一会，就打算写作业了，正好我</tspan><tspan x="1732" dy="22.4">爸爸和我妹妹也来了，于是我就在我姑姑家里</tspan><tspan x="1732" dy="22.4">写了会儿作业就回家了。</tspan></text></g>
<g id="H6"><rect class="cb" x="1722" y="3815" width="366" height="62" rx="8"/><text class="t ct" y="3841"><tspan x="1732">玩会游戏真过瘾啊！希望每天都能玩一会儿啊</tspan><tspan x="1732" dy="22.4">！</tspan></text></g>
<g id="H7"><rect class="cb" x="1722" y="3914" width="366" height="150" rx="8"/><text class="t ct" y="3940"><tspan x="1732">第二轮要开始了，我想：保卫萝卜这个名字的</tspan><tspan x="1732" dy="22.4">意思应该要让我们来保卫萝卜。我在第一轮输</tspan><tspan x="1732" dy="22.4">的基础上学了点经验，瞧！那又贱又可爱的萌</tspan><tspan x="1732" dy="22.4">萝卜这次又跑到北极度假，可惜好景不长，多</tspan><tspan x="1732" dy="22.4">灾多难的萝卜这会遇到了沉船事故，即将成为</tspan><tspan x="1732" dy="22.4">一群怪物的盘中餐……</tspan></text></g>
<g id="H8"><rect class="cb" x="2119" y="3914" width="367" height="152" rx="8"/><text class="t ct" y="3942"><tspan x="2129">时间过的真快，不知不觉玩了半小时了，记得</tspan><tspan x="2129" dy="22.4">妈妈经常跟我说：要劳逸结合，玩游戏不能超</tspan><tspan x="2129" dy="22.4">过半小时。脑子里出现妈妈的*戒我立刻就把</tspan><tspan x="2129" dy="22.4">电脑给关了。哈哈！同学们，你们要记住一句</tspan><tspan x="2129" dy="22.4">话：适度游戏益脑，沉迷游戏伤身；合理安排</tspan><tspan x="2129" dy="22.4">时间，享受健康生活！</tspan></text></g>

<g id="I1"><rect class="tb" x="1722" y="4103" width="366" height="62" rx="8"/><text class="t tt" y="4129"><tspan x="1732">那时我才五岁，好奇心特别强，一看到别人玩</tspan><tspan x="1732" dy="22.4">电脑，就羡慕的不得了。</tspan></text></g>
<g id="I2"><rect class="tb" x="1722" y="4202" width="366" height="307" rx="8"/><text class="t tt" y="4228"><tspan x="1732">不久，爸爸终于把我期盼已久的电脑买了回来</tspan><tspan x="1732" dy="22.4">，正好今天爸爸有事，去上班了，临走时，还</tspan><tspan x="1732" dy="22.4">千叮咛，万嘱咐我不能玩电脑，可我哪能听的</tspan><tspan x="1732" dy="22.4">进去，心里总暗暗想着那台电脑，爸爸走后，</tspan><tspan x="1732" dy="22.4">我立刻跑上楼，怎么开电脑呢？突然，我看见</tspan><tspan x="1732" dy="22.4">一个按键，很像电视上面的启动键，那应该也</tspan><tspan x="1732" dy="22.4">是电脑上的启动键吧，我按了一下，不一会电</tspan><tspan x="1732" dy="22.4">脑打开了，我高兴极了。突然，电脑上出现了</tspan><tspan x="1732" dy="22.4">一个蓝色的大方框，这是怎么一回事，难道，</tspan><tspan x="1732" dy="22.4">电脑坏了，我心急如焚。这时，门开了，爸爸</tspan><tspan x="1732" dy="22.4">回来了，爸爸看我一脸恐慌的样子，爸爸反而</tspan><tspan x="1732" dy="22.4">笑了，我才松了一口气，告诉我电脑还没上线</tspan><tspan x="1732" dy="22.4">，我才松了一口气。</tspan></text></g>
<g id="I3"><rect class="tb" x="1722" y="4548" width="366" height="62" rx="8"/><text class="t tt" y="4574"><tspan x="1732">说起来，我还得感谢这第一次的尝试，勇于尝</tspan><tspan x="1732" dy="22.4">试是对的。</tspan></text></g>

<g id="J1"><rect class="bb" x="1735" y="4647" width="366" height="128" rx="8"/><text class="t bt" y="4673"><tspan x="1745">今天放学回到家，我很快就把作业做完了，并</tspan><tspan x="1745" dy="22.4">且经过妈妈检查全部过关。于是妈妈就允许我</tspan><tspan x="1745" dy="22.4">玩十五钟电脑游戏。当我听到这个消息的时候</tspan><tspan x="1745" dy="22.4">，我高兴得跳了起来，并且大声喊着："可以</tspan><tspan x="1745" dy="22.4">玩游戏啰!"</tspan></text></g>
<g id="J2"><rect class="bb" x="1735" y="4930" width="366" height="150" rx="8"/><text class="t bt" y="4956"><tspan x="1745">开始玩游戏了，我选择了"赛尔号"这个游戏，</tspan></text></g>
<g id="J3"><rect class="bb" x="1735" y="5113" width="366" height="84" rx="8"/><text class="t bt" y="5139"><tspan x="1745">我已经玩了好几次了。</tspan></text></g>
</g>
</svg>
